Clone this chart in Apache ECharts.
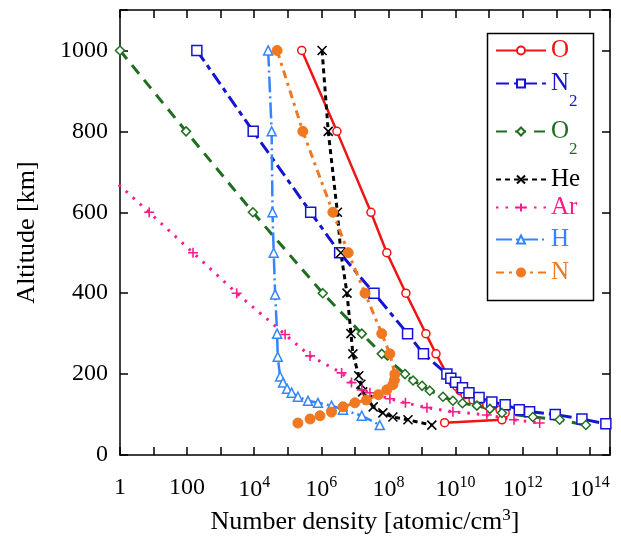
<!DOCTYPE html>
<html><head><meta charset="utf-8">
<script src="https://cdn.jsdelivr.net/npm/echarts@6/dist/echarts.min.js"></script>
<style>html,body{margin:0;padding:0;background:#fff}#c{width:621px;height:542px}</style>
</head><body><div id="c"></div>
<script>
// ---- data (altitude km, number density atomic/cm^3) ----
const O_alt  = [1000, 800, 600, 500, 400, 300, 250, 200, 191, 179, 169, 159, 149, 136, 124, 112, 104, 87, 80];
const O_dens = [2.6e5, 2.9e6, 3.0e7, 8.9e7, 3.3e8, 1.3e9, 2.6e9, 5.5e9, 6.8e9, 8.3e9, 1.1e10, 1.35e10, 1.9e10, 3.3e10, 8.5e10, 2.1e11, 3.0e11, 2.4e11, 4.7e9];

const N2_alt  = [1000, 800, 600, 500, 400, 300, 250, 200, 190, 180, 166, 154, 142, 131, 124, 112, 107, 100, 89, 77];
const N2_dens = [1.95e2, 9.3e3, 4.8e5, 3.5e6, 3.7e7, 3.7e8, 1.1e9, 5.5e9, 7.2e9, 1.0e10, 1.6e10, 2.5e10, 5.0e10, 1.2e11, 3.0e11, 7.9e11, 1.6e12, 9.3e12, 5.8e13, 3.0e14];

const O2_alt  = [1000, 800, 600, 400, 300, 250, 200, 184, 171, 159, 144, 134, 128, 122, 114, 104, 94, 87, 74];
const O2_dens = [1.0, 93, 9.1e3, 1.1e6, 1.6e7, 6.3e7, 3.1e8, 5.4e8, 1.0e9, 1.7e9, 4.2e9, 8.3e9, 1.6e10, 4.3e10, 1.05e11, 2.4e11, 2.0e12, 1.26e13, 7.6e13];

const He_alt  = [1000, 800, 600, 500, 400, 300, 250, 196, 175, 156, 137, 119, 104, 94, 87, 74];
const He_dens = [1.05e6, 1.6e6, 3.0e6, 3.8e6, 5.8e6, 7.6e6, 8.7e6, 1.3e7, 1.5e7, 1.7e7, 2.4e7, 3.5e7, 6.8e7, 1.35e8, 3.8e8, 1.95e9];

const Ar_alt  = [700, 600, 500, 400, 298, 245, 203, 179, 161, 154, 139, 129, 117, 107, 99, 87, 79];
const Ar_dens = [0.35, 7.4, 1.5e2, 3.0e3, 8.3e4, 4.6e5, 4.0e6, 7.9e6, 1.6e7, 2.8e7, 1.1e8, 3.2e8, 1.4e9, 8.3e9, 8.5e10, 5.5e11, 3.2e12];

const H_alt  = [1000, 800, 600, 500, 397, 300, 243, 194, 179, 164, 154, 144, 134, 129, 122, 112, 97, 74];
const H_dens = [2.6e4, 3.3e4, 3.5e4, 3.8e4, 4.2e4, 4.8e4, 5.0e4, 5.9e4, 7.2e4, 9.5e4, 1.3e5, 2.0e5, 4.0e5, 7.9e5, 2.0e6, 4.4e6, 1.6e7, 5.5e7];

const N_alt  = [1000, 800, 600, 500, 400, 300, 250, 200, 185, 174, 161, 149, 136, 129, 119, 106, 97, 89, 79];
const N_dens = [4.8e4, 2.8e5, 2.2e6, 6.3e6, 2.0e7, 6.3e7, 1.1e8, 1.55e8, 1.5e8, 1.35e8, 8.9e7, 5.0e7, 2.2e7, 1.0e7, 4.4e6, 2.0e6, 9.1e5, 4.6e5, 2.0e5];

const xLabelExponents = [0, 2, 4, 6, 8, 10, 12, 14];   // labelled decades
const yTickLabels = [0, 200, 400, 600, 800, 1000];

const FONT = "'Liberation Serif','Times New Roman',serif";

function pts(alt, dens) { return dens.map((d, i) => [Math.log10(d), alt[i]]); }

const XMARK = 'path://M0,0L10,10M10,0L0,10';
const PLUS  = 'path://M5,0L5,10M0,5L10,5';

const defs = [
  {name:'O',  legend:'{m|O}',            alt:O_alt,  dens:O_dens,  color:'#f01414', dash:'solid',      width:2.5, symbol:'circle',   size:8,  open:true},
  {name:'N2', legend:'{m|N}{s|2}',       alt:N2_alt, dens:N2_dens, color:'#1414d2', dash:[13,5,5,5],   width:3,   symbol:'rect',     size:10, open:true},
  {name:'O2', legend:'{m|O}{s|2}',       alt:O2_alt, dens:O2_dens, color:'#1f6e1f', dash:[11,8],       width:3,   symbol:'diamond',  size:9,  open:true},
  {name:'He', legend:'{m|He}',           alt:He_alt, dens:He_dens, color:'#000000', dash:[5,4],        width:3,   symbol:XMARK,      size:9,  open:false},
  {name:'Ar', legend:'{m|Ar}',           alt:Ar_alt, dens:Ar_dens, color:'#ff1a8c', dash:[2.5,7],      width:3,   symbol:PLUS,       size:10, open:false},
  {name:'H',  legend:'{m|H}',            alt:H_alt,  dens:H_dens,  color:'#3385ff', dash:[16,4,2,4],   width:2.5, symbol:'triangle', size:9,  open:true},
  {name:'N',  legend:'{m|N}',            alt:N_alt,  dens:N_dens,  color:'#f07820', dash:[8,5,3,5],    width:3,   symbol:'circle',   size:10, open:false, filled:true}
];

const series = defs.map(d => ({
  name: d.name,
  type: 'line',
  data: pts(d.alt, d.dens),
  symbol: d.symbol,
  symbolSize: d.size,
  showAllSymbol: true,
  clip: true,
  lineStyle: {color: d.color, width: d.width, type: d.dash},
  itemStyle: d.filled ? {color: d.color, borderColor: d.color, borderWidth: 1}
            : d.open ? {color: '#ffffff', borderColor: d.color, borderWidth: 1.5}
            : {color: 'none', borderColor: d.color, borderWidth: 1.6},
  emphasis: {disabled: true},
  animation: false
}));

// legend item vertical centres (layout)
const legendCentres = [53, 85, 133, 182, 210, 242, 275];
const legends = defs.map((d, i) => {
  const sub = d.legend.indexOf('{s|') >= 0;
  return {
    data: [d.name],
    left: 495,
    top: legendCentres[i] - (sub ? 28 : 15),
    itemWidth: 50,
    itemHeight: 10,
    padding: 0,
    formatter: () => d.legend,
    selectedMode: false,
    textStyle: {
      color: d.color, fontFamily: FONT,
      rich: {
        m: {fontSize: 25, lineHeight: 30, color: d.color, fontFamily: FONT},
        s: {fontSize: 17, lineHeight: 20, color: d.color, fontFamily: FONT, padding: [36, 0, 0, 0]}
      }
    }
  };
});

const axisLine = {show: true, onZero: false, lineStyle: {color: '#000', width: 1.5}};
const tick = {show: true, inside: true, length: 8, lineStyle: {color: '#000', width: 1.5}};

const option = {
  backgroundColor: '#fff',
  animation: false,
  grid: {left: 120, right: 11, top: 10, bottom: 87},
  legend: legends,
  graphic: [{type: 'rect', left: 485, top: 31, shape: {width: 106, height: 267},
             style: {fill: 'none', stroke: '#000', lineWidth: 1.5}, z: 100}],
  xAxis: [{
    type: 'value', min: 0, max: 14.6, interval: 1, position: 'bottom',
    axisLine, axisTick: tick, splitLine: {show: false},
    axisLabel: {
      margin: 20, color: '#000', fontFamily: FONT, fontSize: 24,
      formatter: v => {
        if (xLabelExponents.indexOf(v) < 0) return '';
        if (v === 0) return '{b|1}';
        if (v === 2) return '{b|100}';
        return '{b|10}{s|' + v + '}';
      },
      rich: {
        b: {fontSize: 24, fontFamily: FONT, color: '#000', lineHeight: 26},
        s: {fontSize: 16, fontFamily: FONT, color: '#000', padding: [0, 0, 14, 0]}
      }
    },
    name: '{t|Number density [atomic/cm}{s|3}{t|]}',
    nameLocation: 'middle', nameGap: 52,
    nameTextStyle: {
      rich: {
        t: {fontSize: 26, fontFamily: FONT, color: '#000', lineHeight: 30},
        s: {fontSize: 17, fontFamily: FONT, color: '#000', padding: [0, 0, 14, 0]}
      }
    }
  }, {
    type: 'value', min: 0, max: 14.6, interval: 1, position: 'top',
    axisLine, axisTick: tick, axisLabel: {show: false}, splitLine: {show: false}
  }],
  yAxis: [{
    type: 'value', min: 0, max: 1100, interval: 200, position: 'left',
    axisLine, axisTick: tick, splitLine: {show: false},
    axisLabel: {
      margin: 12, color: '#000', fontFamily: FONT, fontSize: 24,
      formatter: v => yTickLabels.indexOf(v) >= 0 ? String(v) : ''
    },
    name: 'Altitude [km]', nameLocation: 'middle', nameGap: 80, nameRotate: 90,
    nameTextStyle: {fontSize: 26, fontFamily: FONT, color: '#000'}
  }, {
    type: 'value', min: 0, max: 1100, interval: 200, position: 'right',
    axisLine, axisTick: tick, axisLabel: {show: false}, splitLine: {show: false}
  }],
  series
};

const chart = echarts.init(document.getElementById('c'), null, {renderer: 'canvas'});
chart.setOption(option);
</script>
</body></html>
